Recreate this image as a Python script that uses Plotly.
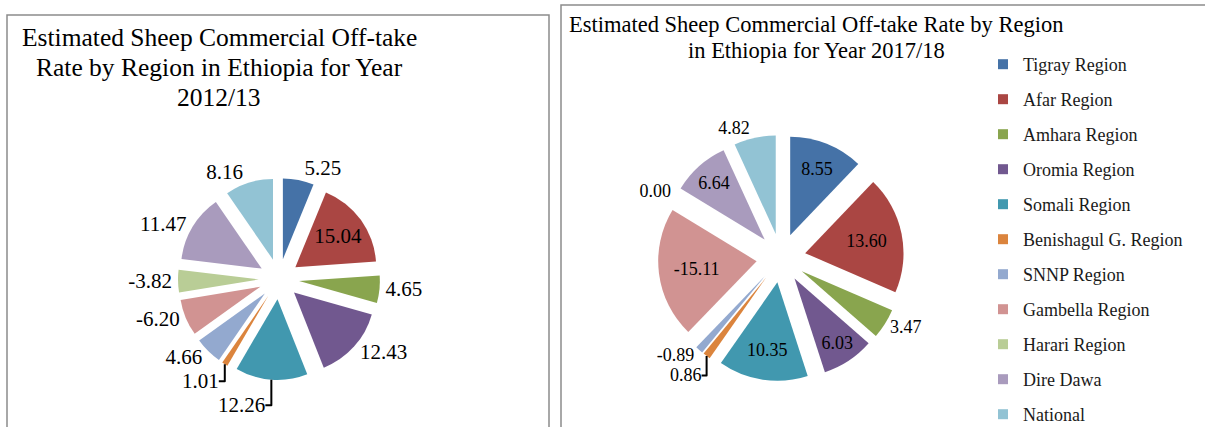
import plotly.graph_objects as go

# ---------------- data ----------------
regions = ["Tigray Region", "Afar Region", "Amhara Region", "Oromia Region",
           "Somali Region", "Benishagul G. Region", "SNNP Region",
           "Gambella Region", "Harari Region", "Dire Dawa", "National"]
rate_2012_13 = [5.25, 15.04, 4.65, 12.43, 12.26, 1.01, 4.66, -6.20, -3.82, 11.47, 8.16]
rate_2017_18 = [8.55, 13.60, 3.47, 6.03, 10.35, 0.86, -0.89, -15.11, 0.00, 6.64, 4.82]
colors = ["#4572A7", "#AA4643", "#89A54E", "#71588F", "#4198AF", "#DB843D",
          "#93A9CF", "#D19392", "#B9CD96", "#A99BBD", "#92C3D4"]
pos_2012_13 = ["outside", "inside", "outside", "outside", "outside", "outside",
               "outside", "outside", "outside", "outside", "outside"]
pos_2017_18 = ["inside", "inside", "outside", "inside", "inside", "outside",
               "outside", "inside", "outside", "inside", "outside"]
title_left_lines = ["Estimated Sheep Commercial Off-take",
                    "Rate by Region in Ethiopia for Year",
                    "2012/13"]
title_right_lines = ["Estimated Sheep Commercial Off-take Rate by Region",
                     "in Ethiopia for Year 2017/18"]

FONT = "Liberation Serif, Times New Roman, serif"
W, H = 1205, 427

fig = go.Figure()

def add_pie(vals, pos, dom_x, dom_y, fsize):
    fig.add_trace(go.Pie(
        labels=regions,
        values=[abs(v) for v in vals],
        text=[f"{v:.2f}" for v in vals],
        textinfo="text",
        textposition=pos,
        insidetextorientation="horizontal",
        textfont=dict(family=FONT, size=fsize, color="black"),
        marker=dict(colors=colors, line=dict(width=0)),
        pull=0.25,
        sort=False,
        direction="clockwise",
        rotation=0,
        showlegend=False,
        hoverinfo="label+text",
        domain=dict(x=dom_x, y=dom_y),
    ))

add_pie(rate_2012_13, pos_2012_13, [178 / W, 380 / W], [1 - 380 / H, 1 - 178 / H], 21)
add_pie(rate_2017_18, pos_2017_18, [658 / W, 904 / W], [1 - 381 / H, 1 - 135 / H], 18)

# legend entries (one group each so spacing can be controlled)
for name, c in zip(regions, colors):
    fig.add_trace(go.Scatter(
        x=[None], y=[None], mode="markers", name=name, legendgroup=name,
        marker=dict(symbol="square", size=10, color=c),
        showlegend=True, hoverinfo="skip",
    ))

annotations = []
for i, line in enumerate(title_left_lines):
    annotations.append(dict(
        text=line, x=219 / W, y=1 - (38 + 29.5 * i) / H, xref="paper", yref="paper",
        xanchor="center", yanchor="middle", showarrow=False,
        font=dict(family=FONT, size=25.5, color="black")))
for i, line in enumerate(title_right_lines):
    annotations.append(dict(
        text=line, x=816 / W, y=1 - (25 + 25.5 * i) / H, xref="paper", yref="paper",
        xanchor="center", yanchor="middle", showarrow=False,
        font=dict(family=FONT, size=22.5, color="black")))

fig.update_layout(
    width=W, height=H,
    margin=dict(l=0, r=0, t=0, b=0, autoexpand=False),
    paper_bgcolor="white", plot_bgcolor="white",
    font=dict(family=FONT, color="black"),
    xaxis=dict(visible=False), yaxis=dict(visible=False),
    legend=dict(
        x=983 / W, y=1 - 46 / H, xanchor="left", yanchor="top",
        font=dict(family=FONT, size=18, color="#1a1a1a"),
        tracegroupgap=8.6, bgcolor="rgba(0,0,0,0)",
    ),
    shapes=[
        dict(type="rect", xref="paper", yref="paper",
             x0=7 / W, x1=549 / W, y0=-0.1, y1=1 - 15 / H,
             line=dict(color="#8c8c8c", width=1.5)),
        dict(type="rect", xref="paper", yref="paper",
             x0=561 / W, x1=1.05, y0=-0.1, y1=1 - 5 / H,
             line=dict(color="#8c8c8c", width=1.5)),
    ],
    annotations=annotations,
)

fig.write_html("out.html")
